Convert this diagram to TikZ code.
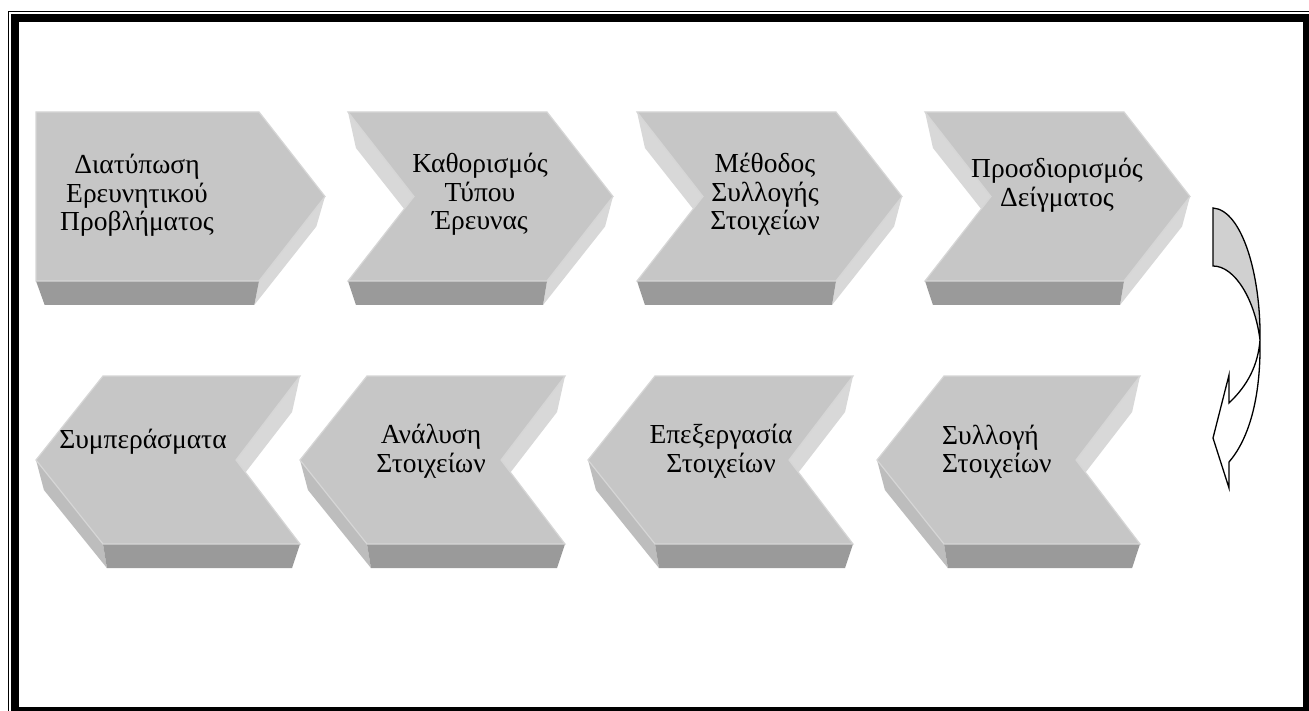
\documentclass[tikz,border=0pt]{standalone}
\usepackage{fontspec}
\setmainfont{Liberation Serif}
\definecolor{facegray}{HTML}{C6C6C6}
\definecolor{edgegray}{HTML}{D6D6D6}
\definecolor{darkwall}{HTML}{9A9A9A}
\definecolor{lightwall}{HTML}{D8D8D8}
\definecolor{midwall}{HTML}{BDBDBD}
\definecolor{arrowgray}{HTML}{D0D0D0}

% Right-pointing 3D chevron: #1 left x, #2 tip x, #3 notch depth (0 = flat left side)
\newcommand{\chevright}[3]{%
  \pgfmathsetmacro\chL{#1}\pgfmathsetmacro\chT{#2}%
  \pgfmathsetmacro\chN{#1+#3}\pgfmathsetmacro\chR{#2-66}%
  \pgfmathsetmacro\chC{(#1+#2)/2}%
  \pgfmathsetmacro\exT{\chC+0.94*(\chT-\chC)}%
  \pgfmathsetmacro\exR{\chC+0.94*(\chR-\chC)}%
  \pgfmathsetmacro\exL{\chC+0.94*(\chL-\chC)}%
  \pgfmathsetmacro\exN{\chC+0.94*(\chN-\chC)}%
  \fill[lightwall] (\chT,196.5) -- (\chR,281) -- (\exR,305) -- (\exT,226.5) -- cycle;
  \fill[lightwall] (\chL,112) -- (\chN,196.5) -- (\exN,226.5) -- (\exL,148) -- cycle;
  \fill[darkwall] (\chL,281) -- (\chR,281) -- (\exR,305) -- (\exL,305) -- cycle;
  \filldraw[topface] (\chL,112) -- (\chR,112) -- (\chT,196.5) -- (\chR,281)
     -- (\chL,281) -- (\chN,196.5) -- cycle;
}

% Left-pointing 3D chevron: #1 tip x, #2 right x
\newcommand{\chevleft}[2]{%
  \pgfmathsetmacro\chT{#1}\pgfmathsetmacro\chR{#2}%
  \pgfmathsetmacro\chL{#1+67}\pgfmathsetmacro\chN{#2-64}%
  \pgfmathsetmacro\chC{(#1+#2)/2}%
  \pgfmathsetmacro\exT{\chC+0.94*(\chT-\chC)}%
  \pgfmathsetmacro\exR{\chC+0.94*(\chR-\chC)}%
  \pgfmathsetmacro\exL{\chC+0.94*(\chL-\chC)}%
  \pgfmathsetmacro\exN{\chC+0.94*(\chN-\chC)}%
  \fill[midwall] (\chT,460) -- (\chL,544) -- (\exL,568) -- (\exT,490) -- cycle;
  \fill[lightwall] (\chR,376) -- (\chN,460) -- (\exN,490) -- (\exR,412) -- cycle;
  \fill[darkwall] (\chL,544) -- (\chR,544) -- (\exR,568) -- (\exL,568) -- cycle;
  \filldraw[topface] (\chT,460) -- (\chL,376) -- (\chR,376) -- (\chN,460)
     -- (\chR,544) -- (\chL,544) -- cycle;
}

\begin{document}
\begin{tikzpicture}[x=1pt,y=-1pt,
  topface/.style={fill=facegray, draw=edgegray, line width=1.2pt, line join=miter},
  lbl/.style={font=\fontsize{27.5}{30}\selectfont, inner sep=0pt, anchor=base},
  lblw/.style={lbl, anchor=base west},
  ribbon/.style={draw=black, line width=1.3pt, line join=miter}]

\useasboundingbox (0,0) rectangle (1309,711);
\clip (0,0) rectangle (1309,711);
\fill[white] (0,0) rectangle (1309,711);

% double frame
\draw[line width=1.4pt] (8.25,11.5) rectangle (1330,740);
\draw[line width=8pt] (15,18) rectangle (1307,711);

% upper row of steps
\chevright{36}{325}{0}
\chevright{348}{613}{66}
\chevright{637}{902}{66}
\chevright{925}{1190}{66}

% lower row of steps
\chevleft{36}{300}
\chevleft{300}{565}
\chevleft{588}{853}
\chevleft{877}{1140}

% labels, upper row
\node[lbl] (t1a) at (137,174) {Διατύπωση};
\node[lbl] (t1b) at (137,202.5) {Ερευνητικού};
\node[lbl] (t1c) at (137,231) {Προβλήματος};

\node[lbl] (t2a) at (480,173) {Καθορισμός};
\node[lbl] (t2b) at (480,201.5) {Τύπου};
\node[lbl] (t2c) at (480,230) {Έρευνας};

\node[lbl] (t3a) at (765,173) {Μέθοδος};
\node[lbl] (t3b) at (765,201.5) {Συλλογής};
\node[lbl] (t3c) at (765,230) {Στοιχείων};

\node[lbl] (t4a) at (1057,178) {Προσδιορισμός};
\node[lbl] (t4b) at (1057,207) {Δείγματος};

% labels, lower row
\node[lbl] (b1a) at (143,448) {Συμπεράσματα};

\node[lbl] (b2a) at (431,443) {Ανάλυση};
\node[lbl] (b2b) at (431,472) {Στοιχείων};

\node[lbl] (b3a) at (721,443) {Επεξεργασία};
\node[lbl] (b3b) at (721,472) {Στοιχείων};

\node[lblw] (b4a) at (942,444) {Συλλογή};
\node[lblw] (b4b) at (942,472) {Στοιχείων};

% twisted curved arrow leading from the upper row to the lower row
\filldraw[ribbon, fill=arrowgray]
  (1213,208) .. controls (1242,210) and (1261,275) .. (1260,340)
  .. controls (1255,300) and (1235,266) .. (1213,266) -- cycle;
\filldraw[ribbon, fill=white]
  (1260,340) .. controls (1261,400) and (1248,440) .. (1229,462)
  -- (1229,488) -- (1213,438) -- (1229,375) -- (1229,403)
  .. controls (1248,385) and (1258,365) .. (1260,340) -- cycle;
\end{tikzpicture}
\end{document}
